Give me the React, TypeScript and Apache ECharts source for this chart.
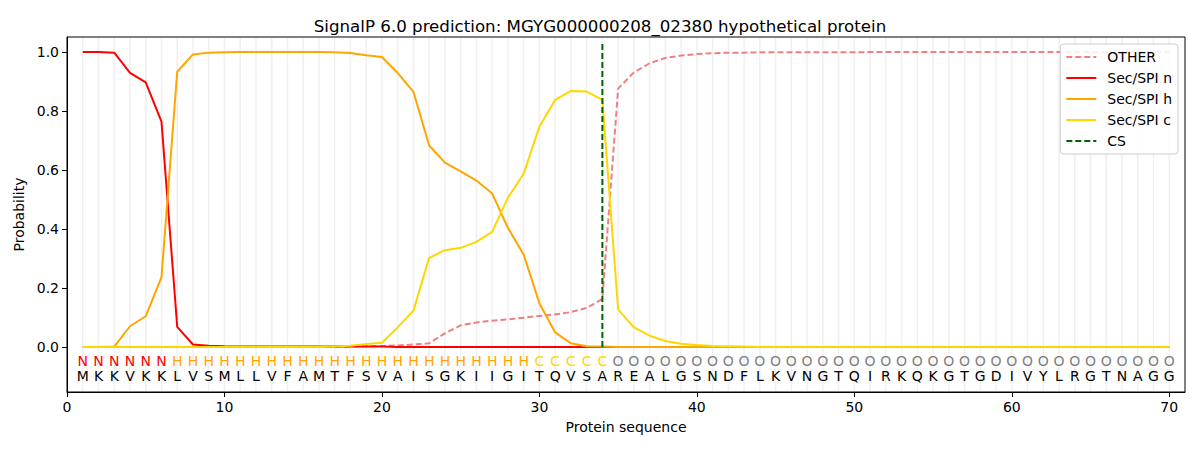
import React, { useEffect, useRef } from "react";
import * as echarts from "echarts";

const sequence = "MKKVKKLVSMLLVFAMTFSVAISGKIIGITQVSAREALGSNDFLKVNGTQIRKQKGTGDIVYLRGTNAGG".split("");
const regionLabels = "NNNNNNHHHHHHHHHHHHHHHHHHHHHHHCCCCCOOOOOOOOOOOOOOOOOOOOOOOOOOOOOOOOOOOO".split("");
const positions = sequence.map((_, i) => i + 1);

const otherProb = [
  0, 0, 0, 0, 0, 0, 0, 0, 0, 0,
  0, 0, 0, 0, 0, 0, 0, 0.001, 0.002, 0.003,
  0.005, 0.008, 0.012, 0.046, 0.073, 0.083, 0.089, 0.093, 0.099, 0.105,
  0.11, 0.118, 0.132, 0.163, 0.876, 0.931, 0.962, 0.98, 0.988, 0.993,
  0.996, 0.998, 0.998, 0.999, 0.999, 0.999, 0.999, 0.999, 0.999, 0.999,
  1, 1, 1, 1, 1, 1, 1, 1, 1, 1,
  1, 1, 1, 1, 1, 1, 1, 1, 1, 1,
];
const secN = [
  1.0, 1.0, 0.998, 0.929, 0.897, 0.764, 0.068, 0.008, 0.004, 0.002,
  0.001, 0.001, 0.001, 0.001, 0.001, 0.001, 0.001, 0.001, 0.001, 0.001,
  0, 0, 0, 0, 0, 0, 0, 0, 0, 0,
  0, 0, 0, 0, 0, 0, 0, 0, 0, 0,
  0, 0, 0, 0, 0, 0, 0, 0, 0, 0,
  0, 0, 0, 0, 0, 0, 0, 0, 0, 0,
  0, 0, 0, 0, 0, 0, 0, 0, 0, 0,
];
const secH = [
  0, 0, 0.001, 0.07, 0.104, 0.236, 0.933, 0.992, 0.998, 0.999,
  1, 1, 1, 1, 1, 1, 0.999, 0.997, 0.989, 0.983,
  0.929, 0.865, 0.683, 0.625, 0.595, 0.564, 0.52, 0.404, 0.313, 0.148,
  0.049, 0.012, 0.002, 0.001, 0, 0, 0, 0, 0, 0,
  0, 0, 0, 0, 0, 0, 0, 0, 0, 0,
  0, 0, 0, 0, 0, 0, 0, 0, 0, 0,
  0, 0, 0, 0, 0, 0, 0, 0, 0, 0,
];
const secC = [
  0, 0, 0, 0, 0, 0, 0, 0, 0, 0,
  0, 0, 0, 0, 0, 0, 0.001, 0.004, 0.01, 0.014,
  0.066, 0.123, 0.302, 0.328, 0.336, 0.356, 0.39, 0.506, 0.587, 0.747,
  0.838, 0.868, 0.866, 0.838, 0.127, 0.066, 0.038, 0.02, 0.011, 0.006,
  0.003, 0.002, 0.001, 0, 0, 0, 0, 0, 0, 0,
  0, 0, 0, 0, 0, 0, 0, 0, 0, 0,
  0, 0, 0, 0, 0, 0, 0, 0, 0, 0,
];
const csPosition = 34;
const csTop = 1.035;
const xTicks = [0, 10, 20, 30, 40, 50, 60, 70];
const yTicks = [0, 0.2, 0.4, 0.6, 0.8, 1.0];

const Y_MIN = -0.153;
const Y_MAX = 1.051;
const X_MIN = 0;
const X_MAX = 71;
const REGION_ROW_Y = -0.047;
const SEQ_ROW_Y = -0.1;

const FONT = "DejaVu Sans";
const regionColor: Record<string, string> = {
  N: "#ff0000",
  H: "#ffa500",
  C: "#ffd700",
  O: "#808080",
};

function pair(vals: number[]) {
  return positions.map((p, i) => [p, vals[i]]);
}

export default function App() {
  const ref = useRef<HTMLDivElement>(null);
  useEffect(() => {
    if (!ref.current) return;
    const chart = echarts.init(ref.current, undefined, { renderer: "svg" });
    const lineBase = {
      type: "line",
      showSymbol: false,
      symbol: "none",
      smooth: false,
    };
    chart.setOption({
      animation: false,
      backgroundColor: "#ffffff",
      textStyle: { fontFamily: FONT },
      title: {
        text: "SignalP 6.0 prediction: MGYG000000208_02380 hypothetical protein",
        left: "center",
        top: 13,
        textStyle: { fontFamily: FONT, fontSize: 16.67, fontWeight: "normal", color: "#000" },
      },
      grid: {
        left: 67,
        right: 15,
        top: 37,
        bottom: 58,
        show: true,
        borderColor: "#000",
        borderWidth: 1,
        backgroundColor: "transparent",
      },
      legend: {
        orient: "vertical",
        right: 22,
        top: 44,
        padding: [6, 6, 6, 5],
        itemWidth: 30,
        itemHeight: 14,
        itemGap: 7,
        borderColor: "#cccccc",
        borderWidth: 1,
        borderRadius: 3,
        backgroundColor: "rgba(255,255,255,0.85)",
        itemStyle: { opacity: 0 },
        textStyle: { fontFamily: FONT, fontSize: 14, color: "#000", padding: [0, 0, 0, 6] },
        data: ["OTHER", "Sec/SPI n", "Sec/SPI h", "Sec/SPI c", "CS"],
      },
      xAxis: {
        type: "value",
        min: X_MIN,
        max: X_MAX,
        name: "Protein sequence",
        nameLocation: "middle",
        nameGap: 28,
        nameTextStyle: { fontFamily: FONT, fontSize: 14, color: "#000" },
        axisLine: { show: true, onZero: false, lineStyle: { color: "#000", width: 1 } },
        axisTick: { show: true, length: 5, lineStyle: { color: "#000" }, customValues: xTicks },
        axisLabel: {
          fontFamily: FONT,
          fontSize: 14,
          color: "#000",
          margin: 8,
          customValues: xTicks,
          formatter: (v: number) => String(v),
        },
        splitLine: { show: false },
      },
      yAxis: {
        type: "value",
        min: Y_MIN,
        max: Y_MAX,
        name: "Probability",
        nameLocation: "middle",
        nameGap: 38,
        nameTextStyle: { fontFamily: FONT, fontSize: 14, color: "#000" },
        axisLine: { show: true, onZero: false, lineStyle: { color: "#000", width: 1 } },
        axisTick: { show: true, length: 5, lineStyle: { color: "#000" }, customValues: yTicks },
        axisLabel: {
          fontFamily: FONT,
          fontSize: 14,
          color: "#000",
          margin: 8,
          customValues: yTicks,
          formatter: (v: number) => v.toFixed(1),
        },
        splitLine: { show: false },
      },
      series: [
        {
          type: "custom",
          name: "gridlines",
          silent: true,
          z: 0,
          data: positions.map((p) => [p, 0]),
          renderItem: (params: any, api: any) => {
            const x = api.value(0);
            const a = api.coord([x, Y_MIN]);
            const b = api.coord([x, Y_MAX]);
            return {
              type: "line",
              shape: { x1: a[0], y1: a[1], x2: b[0], y2: b[1] },
              style: { stroke: "rgba(128,128,128,0.12)", lineWidth: 1.5 },
            };
          },
        },
        {
          ...lineBase,
          name: "OTHER",
          data: pair(otherProb),
          z: 2,
          lineStyle: { color: "#f08080", width: 2, type: [6, 3] },
          itemStyle: { color: "#f08080" },
        },
        {
          ...lineBase,
          name: "Sec/SPI n",
          data: pair(secN),
          z: 3,
          lineStyle: { color: "#ff0000", width: 2 },
          itemStyle: { color: "#ff0000" },
        },
        {
          ...lineBase,
          name: "Sec/SPI h",
          data: pair(secH),
          z: 4,
          lineStyle: { color: "#ffa500", width: 2 },
          itemStyle: { color: "#ffa500" },
        },
        {
          ...lineBase,
          name: "Sec/SPI c",
          data: pair(secC),
          z: 5,
          lineStyle: { color: "#ffd700", width: 2 },
          itemStyle: { color: "#ffd700" },
        },
        {
          ...lineBase,
          name: "CS",
          data: [
            [csPosition, 0],
            [csPosition, csTop],
          ],
          z: 6,
          lineStyle: { color: "#006400", width: 2, type: [6, 3] },
          itemStyle: { color: "#006400" },
        },
        {
          type: "custom",
          name: "letters",
          silent: true,
          z: 7,
          data: positions.map((p) => [p, 0]),
          renderItem: (params: any, api: any) => {
            const i = params.dataIndex;
            const x = api.value(0);
            const pr = api.coord([x, REGION_ROW_Y]);
            const ps = api.coord([x, SEQ_ROW_Y]);
            return {
              type: "group",
              children: [
                {
                  type: "text",
                  x: pr[0],
                  y: pr[1],
                  style: {
                    text: regionLabels[i],
                    fill: regionColor[regionLabels[i]],
                    align: "center",
                    verticalAlign: "middle",
                    font: `14px "${FONT}"`,
                  },
                },
                {
                  type: "text",
                  x: ps[0],
                  y: ps[1],
                  style: {
                    text: sequence[i],
                    fill: "#000",
                    align: "center",
                    verticalAlign: "middle",
                    font: `14px "${FONT}"`,
                  },
                },
              ],
            };
          },
        },
      ],
    });
    return () => chart.dispose();
  }, []);
  return (
    <div
      ref={ref}
      style={{ position: "fixed", left: 0, top: 0, width: 1200, height: 450 }}
    />
  );
}
